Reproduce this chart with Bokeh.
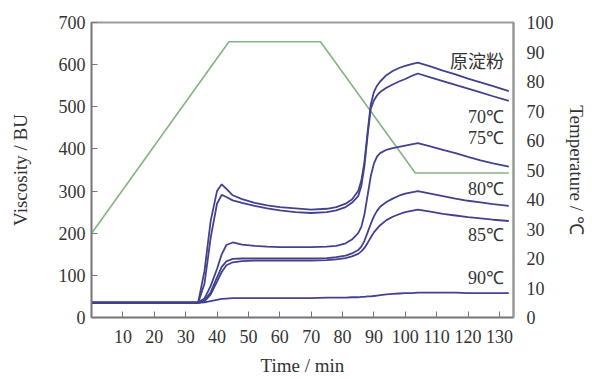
from bokeh.plotting import figure
from bokeh.models import LinearAxis, Range1d, FixedTicker, ColumnDataSource
from bokeh.core.properties import value
from bokeh.embed import file_html
from bokeh.resources import INLINE

# ---------------- data ----------------
time_min = [0, 30, 34, 36, 38, 40, 41.5, 43, 45, 48, 52, 56, 60, 65, 70, 75, 78, 81, 83, 85,
            86, 87, 88, 89, 90, 91, 92, 94, 96, 98, 100, 102, 104, 108, 112, 116, 120, 124, 128, 133]

native = [35, 35, 36, 110, 230, 300, 316, 305, 290, 281, 272, 266, 262, 259, 256, 258, 262, 270, 280, 300,
          325, 370, 440, 505, 535, 550, 560, 575, 585, 592, 597, 601, 605, 596, 586, 577, 567, 558, 549, 537]
c70 = [35, 35, 35, 80, 190, 270, 291, 286, 278, 272, 265, 259, 254, 250, 248, 250, 254, 262, 272, 288,
       312, 360, 432, 495, 515, 527, 535, 545, 553, 560, 566, 573, 579, 570, 561, 552, 543, 534, 525, 514]
c75 = [35, 35, 36, 45, 75, 115, 150, 172, 178, 173, 170, 168, 167, 167, 167, 168, 170, 176, 185, 200,
       215, 245, 290, 335, 365, 382, 390, 398, 402, 405, 408, 411, 414, 406, 398, 390, 381, 373, 366, 358]
c80 = [35, 35, 35, 40, 60, 95, 120, 133, 139, 140, 140, 140, 140, 140, 140, 141, 143, 147, 152, 160,
       168, 182, 202, 222, 240, 253, 263, 274, 282, 289, 294, 297, 300, 294, 288, 282, 277, 273, 269, 265]
c85 = [35, 35, 35, 38, 55, 85, 108, 124, 131, 134, 135, 135, 135, 135, 135, 136, 138, 141, 145, 151,
       157, 165, 177, 190, 202, 211, 219, 231, 239, 245, 250, 253, 256, 251, 246, 242, 238, 235, 232, 229]
c90 = [35, 35, 35, 36, 39, 42, 44, 45, 46, 46, 46, 46, 46, 46, 46, 47, 47, 47, 48, 48,
       49, 49, 50, 50, 51, 52, 53, 55, 56, 57, 58, 58, 59, 59, 59, 59, 58, 58, 58, 58]

temp_time = [0, 43.8, 73, 103.2, 133]
temp_c = [28.5, 93.5, 93.5, 49, 49]

curve_names = ["原淀粉", "70℃", "75℃", "80℃", "85℃", "90℃"]
label_y = [612, 475, 427, 306, 195, 93]
label_x = 131.5

x_ticks = [10, 20, 30, 40, 50, 60, 70, 80, 90, 100, 110, 120, 130]
visc_ticks = [0, 100, 200, 300, 400, 500, 600, 700]
temp_ticks = [0, 10, 20, 30, 40, 50, 60, 70, 80, 90, 100]

# ---------------- figure ----------------
BLUE = "#42428f"
GREEN = "#84b484"
TXT = "#333333"
SERIF = "Liberation Serif"

p = figure(width=592, height=379, x_range=Range1d(0, 134.5), y_range=Range1d(0, 700),
           output_backend="svg", toolbar_location=None,
           min_border_left=91, min_border_right=79, min_border_top=22, min_border_bottom=62)
p.extra_y_ranges = {"temp": Range1d(0, 100)}
p.xgrid.visible = False
p.ygrid.visible = False
p.outline_line_color = "#999999"
p.outline_line_width = 2
p.background_fill_color = "white"
p.border_fill_color = "white"

# temperature profile
p.line(temp_time, temp_c, y_range_name="temp", line_color=GREEN, line_width=1.6)

for vals in [native, c70, c75, c80, c85, c90]:
    p.line(time_min, vals, line_color=BLUE, line_width=1.8)

# labels
src_cn = ColumnDataSource(dict(x=[label_x], y=[label_y[0]], t=[curve_names[0]]))
src_deg = ColumnDataSource(dict(x=[label_x] * 5, y=label_y[1:], t=curve_names[1:]))
p.text(x="x", y="y", text="t", source=src_cn, text_align="right", text_baseline="middle",
       text_font=value("Noto Sans CJK SC"), text_font_size="18px", text_color=TXT)
p.text(x="x", y="y", text="t", source=src_deg, text_align="right", text_baseline="middle",
       text_font=value(SERIF), text_font_size="18px", text_color=TXT)

# axes styling
def style_axis(ax):
    ax.axis_line_color = "#777777"
    ax.axis_line_width = 1.5
    ax.major_tick_line_color = "#777777"
    ax.major_tick_in = 6
    ax.major_tick_out = 0
    ax.minor_tick_line_color = None
    ax.major_label_text_font = SERIF
    ax.major_label_text_font_size = "18px"
    ax.major_label_text_color = TXT
    ax.axis_label_text_font = SERIF
    ax.axis_label_text_font_size = "19px"
    ax.axis_label_text_font_style = "normal"
    ax.axis_label_text_color = TXT

xa = p.xaxis[0]
style_axis(xa)
xa.ticker = FixedTicker(ticks=x_ticks)
xa.axis_label = "Time / min"
xa.major_label_standoff = 12
xa.axis_label_standoff = 9

ya = p.yaxis[0]
style_axis(ya)
ya.ticker = FixedTicker(ticks=visc_ticks)
ya.axis_label = "Viscosity / BU"
ya.major_label_standoff = 6
ya.axis_label_standoff = 25

ra = LinearAxis(y_range_name="temp", ticker=FixedTicker(ticks=temp_ticks))
style_axis(ra)
ra.major_tick_line_color = None
ra.axis_line_color = "#999999"
ra.axis_line_width = 2
ra.axis_label = "Temperature / ℃"
ra.major_label_standoff = 13
ra.axis_label_standoff = 9
p.add_layout(ra, "right")

open("out.html", "w").write(file_html(p, INLINE))
